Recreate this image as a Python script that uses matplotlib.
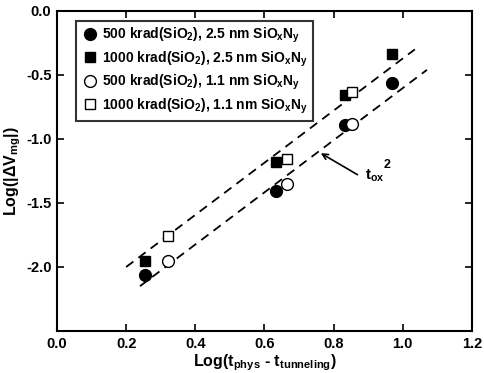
import matplotlib
matplotlib.use("Agg")
import matplotlib.pyplot as plt

plt.rcParams['font.family'] = ['Liberation Sans', 'DejaVu Sans']
plt.rcParams['font.weight'] = 'bold'
plt.rcParams['mathtext.fontset'] = 'custom'
plt.rcParams['mathtext.rm'] = 'Liberation Sans:bold'
plt.rcParams['mathtext.bf'] = 'Liberation Sans:bold'
plt.rcParams['mathtext.it'] = 'Liberation Sans:bold'
plt.rcParams['mathtext.default'] = 'bf'

# data
x_500_25 = [0.254, 0.633, 0.833, 0.970]
y_500_25 = [-2.06, -1.41, -0.89, -0.56]
x_1000_25 = [0.254, 0.633, 0.833, 0.970]
y_1000_25 = [-1.95, -1.18, -0.66, -0.34]
x_500_11 = [0.322, 0.664, 0.852]
y_500_11 = [-1.95, -1.35, -0.885]
x_1000_11 = [0.322, 0.664, 0.852]
y_1000_11 = [-1.76, -1.155, -0.63]

fit_upper_x = [0.20, 1.035]
fit_upper_y = [-2.00, -0.30]
fit_lower_x = [0.24, 1.07]
fit_lower_y = [-2.15, -0.46]

labels = [r'500 krad(SiO$_2$), 2.5 nm SiO$_x$N$_y$',
          r'1000 krad(SiO$_2$), 2.5 nm SiO$_x$N$_y$',
          r'500 krad(SiO$_2$), 1.1 nm SiO$_x$N$_y$',
          r'1000 krad(SiO$_2$), 1.1 nm SiO$_x$N$_y$']

fig = plt.figure(figsize=(4.85, 3.73), dpi=100)
ax = fig.add_axes([0.1175, 0.1126, 0.8555, 0.858])

ax.plot(fit_upper_x, fit_upper_y, ls=(0, (5, 3.5)), color='black', lw=1.3, zorder=1)
ax.plot(fit_lower_x, fit_lower_y, ls=(0, (5, 3.5)), color='black', lw=1.3, zorder=1)

ax.plot(x_500_25, y_500_25, 'o', ms=8.5, mfc='black', mec='black', ls='none', label=labels[0], zorder=3)
ax.plot(x_1000_25, y_1000_25, 's', ms=7.5, mfc='black', mec='black', ls='none', label=labels[1], zorder=3)
ax.plot(x_500_11, y_500_11, 'o', ms=8.5, mfc='white', mec='black', mew=1.0, ls='none', label=labels[2], zorder=3)
ax.plot(x_1000_11, y_1000_11, 's', ms=7.5, mfc='white', mec='black', mew=1.0, ls='none', label=labels[3], zorder=3)

ax.annotate('', xy=(0.756, -1.10), xytext=(0.876, -1.29),
            arrowprops=dict(arrowstyle='->', color='black', lw=1.2))
ax.text(0.89, -1.29, r't$_{ox}$', fontsize=11, fontweight='bold', va='center', ha='left')
ax.text(0.945, -1.2, '2', fontsize=9, fontweight='bold', va='center', ha='left')

ax.set_xlim(0, 1.2)
ax.set_ylim(-2.5, 0)
ax.set_xticks([0, 0.2, 0.4, 0.6, 0.8, 1.0, 1.2])
ax.set_yticks([-2.0, -1.5, -1.0, -0.5, 0.0])
ax.set_xticklabels(['0.0', '0.2', '0.4', '0.6', '0.8', '1.0', '1.2'])
ax.set_yticklabels(['-2.0', '-1.5', '-1.0', '-0.5', '0.0'])
ax.tick_params(direction='in', top=True, right=True, length=5, width=1.2, labelsize=10.5, pad=4)
for lab in ax.get_xticklabels() + ax.get_yticklabels():
    lab.set_fontweight('bold')
for s in ax.spines.values():
    s.set_linewidth(1.5)

ax.set_xlabel(r'Log(t$_{phys}$ - t$_{tunneling}$)', fontsize=11.5, fontweight='bold', labelpad=1)
ax.set_ylabel(r'Log(|$\Delta$V$_{mg}$|)', fontsize=11.5, fontweight='bold', labelpad=2)

leg = ax.legend(loc='upper left', bbox_to_anchor=(0.03, 0.99), fontsize=10, frameon=True,
                fancybox=False, edgecolor='black', handletextpad=0.3, borderpad=0.35,
                labelspacing=0.3, handlelength=1.2)
leg.get_frame().set_linewidth(1.5)

fig.savefig('out.png', dpi=100)
